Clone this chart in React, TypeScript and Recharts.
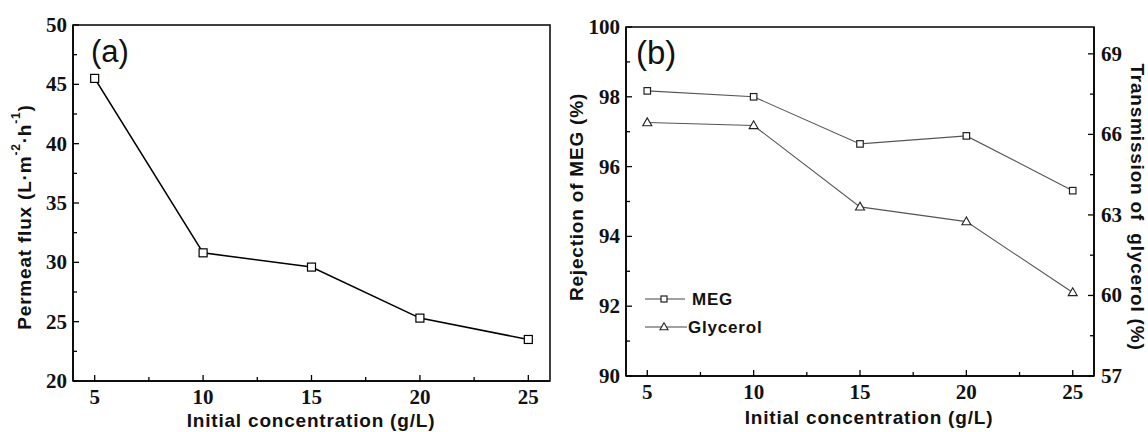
import React from "react";
import { LineChart, Line, XAxis, YAxis, ReferenceArea, Legend } from "recharts";

// values
const concentrations = [5, 10, 15, 20, 25];
const permeateFlux = [45.5, 30.8, 29.6, 25.3, 23.5];
const megRejection = [98.17, 98.0, 96.65, 96.88, 95.31];
const glycerolTransmission = [66.44, 66.33, 63.3, 62.75, 60.11];

const xTicks = [5, 7.5, 10, 12.5, 15, 17.5, 20, 22.5, 25];
const fluxTicks = [20, 22.5, 25, 27.5, 30, 32.5, 35, 37.5, 40, 42.5, 45, 47.5, 50];
const rejectionTicks = [90, 91, 92, 93, 94, 95, 96, 97, 98, 99, 100];
const transmissionTicks = [57, 58.5, 60, 61.5, 63, 64.5, 66, 67.5, 69];

const legendItems = ["MEG", "Glycerol"];

const fluxData = concentrations.map((c, i) => ({ c, flux: permeateFlux[i] }));
const sepData = concentrations.map((c, i) => ({
  c,
  MEG: megRejection[i],
  Glycerol: glycerolTransmission[i],
}));

const serif = '"Liberation Serif", "Times New Roman", serif';
const sans = '"Liberation Sans", Arial, sans-serif';

function axisTick(side: "left" | "right" | "bottom", isMajor: (v: number) => boolean) {
  return (props: any) => {
    const { x, y, payload } = props;
    const v = payload.value as number;
    const major = isMajor(v);
    const len = major ? 6 : 4;
    const txt = { fontFamily: serif, fontWeight: 700, fontSize: "21px", fill: "#111" };
    if (side === "bottom") {
      return (
        <g>
          <line x1={x} y1={y} x2={x} y2={y - len} stroke="#000" strokeWidth={1.3} />
          {major && (
            <text x={x} y={y + 23} textAnchor="middle" style={txt}>
              {v}
            </text>
          )}
        </g>
      );
    }
    if (side === "left") {
      return (
        <g>
          <line x1={x} y1={y} x2={x + len} y2={y} stroke="#000" strokeWidth={1.3} />
          {major && (
            <text x={x - 6} y={y + 7} textAnchor="end" style={txt}>
              {v}
            </text>
          )}
        </g>
      );
    }
    return (
      <g>
        <line x1={x} y1={y} x2={x - len} y2={y} stroke="#000" strokeWidth={1.3} />
        {major && (
          <text x={x + 7} y={y + 7} textAnchor="start" style={txt}>
            {v}
          </text>
        )}
      </g>
    );
  };
}

const squareDot = (size: number, stroke: string) => (props: any) => {
  const { cx, cy, index } = props;
  return (
    <rect
      key={index}
      x={cx - size / 2}
      y={cy - size / 2}
      width={size}
      height={size}
      fill="#fff"
      stroke={stroke}
      strokeWidth={1.2}
    />
  );
};

const triangleDot = (size: number, stroke: string) => (props: any) => {
  const { cx, cy, index } = props;
  const h = size * 0.87;
  return (
    <polygon
      key={index}
      points={`${cx},${cy - h * 0.6} ${cx - size / 2},${cy + h * 0.4} ${cx + size / 2},${cy + h * 0.4}`}
      fill="#fff"
      stroke={stroke}
      strokeWidth={1.1}
    />
  );
};

function SepLegend() {
  return (
    <svg width={150} height={44} style={{ overflow: "visible" }}>
      {legendItems.map((name, i) => {
        const y = 11 + i * 28;
        return (
          <g key={name}>
            <line x1={0} y1={y} x2={i === 0 ? 40 : 42} y2={y} stroke="#444" strokeWidth={1.1} />
            {i === 0
              ? squareDot(6, "#222")({ cx: 19, cy: y, index: 0 })
              : triangleDot(8, "#222")({ cx: 19, cy: y, index: 1 })}
            <text
              x={i === 0 ? 47 : 43}
              y={y + 6}
              fontFamily={sans}
              fontWeight={700}
              fontSize={17}
              letterSpacing={0.8}
              fill="#111"
            >
              {name}
            </text>
          </g>
        );
      })}
    </svg>
  );
}

const titleStyle = {
  fontFamily: sans,
  fontWeight: 700,
  fontSize: 19,
  letterSpacing: 0.8,
  fill: "#111",
};

export default function App() {
  return (
    <div style={{ position: "absolute", left: 0, top: 0, width: 1148, height: 432, background: "#fff" }}>
      <div style={{ position: "absolute", left: 0, top: 0 }}>
        <LineChart width={560} height={432} data={fluxData} margin={{ top: 25, right: 10, bottom: 0, left: 0 }}>
          <XAxis
            dataKey="c"
            type="number"
            domain={[4, 26]}
            ticks={xTicks}
            interval={0}
            height={51}
            tickSize={0}
            tickMargin={0}
            tickLine={false}
            axisLine={{ stroke: "#000", strokeWidth: 1.5 }}
            tick={axisTick("bottom", (v) => v % 5 === 0)}
          />
          <YAxis
            type="number"
            domain={[20, 50]}
            ticks={fluxTicks}
            interval={0}
            width={73}
            tickSize={0}
            tickMargin={0}
            tickLine={false}
            axisLine={{ stroke: "#000", strokeWidth: 1.5 }}
            tick={axisTick("left", (v) => v % 5 === 0)}
          />
          <ReferenceArea x1={4} x2={26} y1={20} y2={50} fill="none" stroke="#000" strokeWidth={1.5} ifOverflow="visible" />
          <Line
            type="linear"
            dataKey="flux"
            stroke="#000"
            strokeWidth={1.6}
            dot={squareDot(8, "#000")}
            isAnimationActive={false}
          />
        </LineChart>
      </div>

      <div style={{ position: "absolute", left: 560, top: 0 }}>
        <LineChart width={588} height={432} data={sepData} margin={{ top: 27, right: 0, bottom: 0, left: 0 }}>
          <XAxis
            dataKey="c"
            type="number"
            domain={[4, 26]}
            ticks={xTicks}
            interval={0}
            height={56}
            tickSize={0}
            tickMargin={0}
            tickLine={false}
            axisLine={{ stroke: "#000", strokeWidth: 1.5 }}
            tick={axisTick("bottom", (v) => v % 5 === 0)}
          />
          <YAxis
            yAxisId="l"
            type="number"
            domain={[90, 100]}
            ticks={rejectionTicks}
            interval={0}
            width={66}
            tickSize={0}
            tickMargin={0}
            tickLine={false}
            axisLine={{ stroke: "#000", strokeWidth: 1.5 }}
            tick={axisTick("left", (v) => v % 2 === 0)}
          />
          <YAxis
            yAxisId="r"
            orientation="right"
            type="number"
            domain={[57, 70]}
            ticks={transmissionTicks}
            interval={0}
            width={54}
            tickSize={0}
            tickMargin={0}
            tickLine={false}
            axisLine={{ stroke: "#000", strokeWidth: 1.5 }}
            tick={axisTick("right", (v) => v % 3 === 0)}
          />
          <ReferenceArea
            yAxisId="l"
            x1={4}
            x2={26}
            y1={90}
            y2={100}
            fill="none"
            stroke="#000"
            strokeWidth={1.5}
            ifOverflow="visible"
          />
          <Legend
            layout="vertical"
            align="center"
            verticalAlign="middle"
            wrapperStyle={{ left: 85, top: 288, width: 150, height: 44 }}
            content={() => <SepLegend />}
          />
          <Line
            yAxisId="l"
            type="linear"
            dataKey="MEG"
            stroke="#555"
            strokeWidth={1.1}
            dot={squareDot(6.5, "#222")}
            isAnimationActive={false}
          />
          <Line
            yAxisId="r"
            type="linear"
            dataKey="Glycerol"
            stroke="#555"
            strokeWidth={1.1}
            dot={triangleDot(9, "#222")}
            isAnimationActive={false}
          />
        </LineChart>
      </div>

      <svg width={1148} height={432} style={{ position: "absolute", left: 0, top: 0, pointerEvents: "none" }}>
        <text x={91} y={62} fontFamily={sans} fontSize={31} fill="#111">
          (a)
        </text>
        <text x={636} y={64} fontFamily={sans} fontSize={33} fill="#111">
          (b)
        </text>
        <text
          transform="translate(24,217) rotate(-90)"
          textAnchor="middle"
          dominantBaseline="central"
          {...titleStyle}
        >
          Permeat flux (L·m
          <tspan fontSize={12} dy={-8}>-2</tspan>
          <tspan dy={8}>·h</tspan>
          <tspan fontSize={12} dy={-8}>-1</tspan>
          <tspan dy={8}>)</tspan>
        </text>
        <text x={311} y={427} textAnchor="middle" {...titleStyle}>
          Initial concentration (g/L)
        </text>
        <text x={869} y={424} textAnchor="middle" {...titleStyle}>
          Initial concentration (g/L)
        </text>
        <text
          transform="translate(576,197) rotate(-90)"
          textAnchor="middle"
          dominantBaseline="central"
          {...titleStyle}
        >
          Rejection of MEG (%)
        </text>
        <text
          transform="translate(1137,207) rotate(90)"
          textAnchor="middle"
          dominantBaseline="central"
          style={{ whiteSpace: "pre" }}
          {...titleStyle}
        >
          Transmission of  glycerol (%)
        </text>
      </svg>
    </div>
  );
}
